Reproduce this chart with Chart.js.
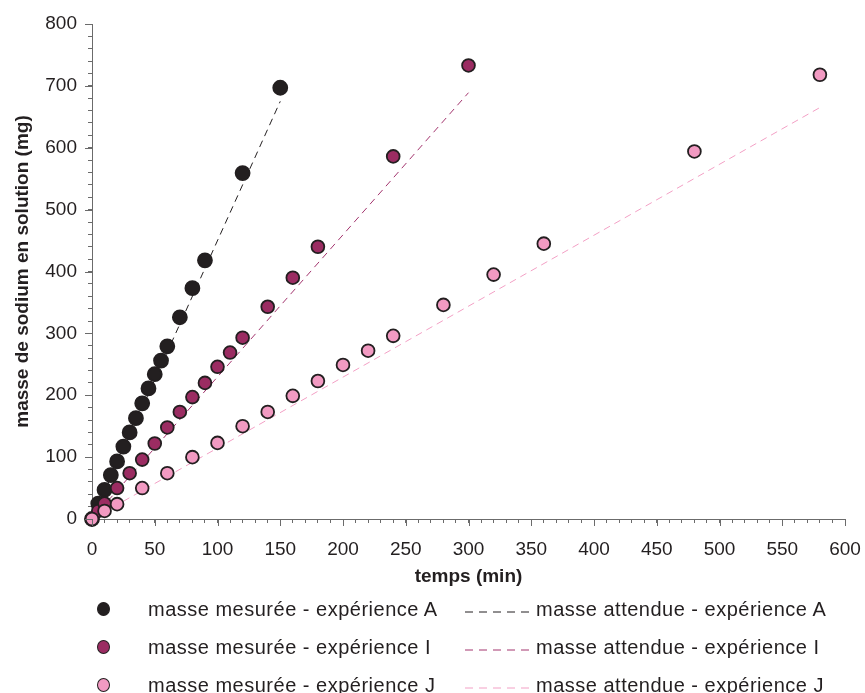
<!DOCTYPE html>
<html lang="fr">
<head>
<meta charset="utf-8">
<script src="https://cdn.jsdelivr.net/npm/chart.js@4.4.0/dist/chart.umd.min.js"></script>
<style>
  body { margin: 0; background: #fff; }
  #wrap { position: relative; width: 865px; height: 693px; font-family: "Liberation Sans", Arial, sans-serif; }
  #chart { position: absolute; left: 0; top: 0; }
  .leg { position: absolute; font-size: 20px; letter-spacing: 0.5px; color: #231f20; white-space: nowrap; line-height: 22px; }
  .dot { position: absolute; width: 11px; height: 12px; border-radius: 50%; border: 1.5px solid #231f20; }
</style>
</head>
<body>
<div id="wrap">
  <canvas id="chart" width="865" height="600"></canvas>
  <div id="legend"></div>
</div>
<script>
// measured points (time in min, mass in mg)
const timesA = [0, 5, 10, 15, 20, 25, 30, 35, 40, 45, 50, 55, 60, 70, 80, 90, 120, 150];
const massA  = [0, 25, 47, 71, 93, 117, 140, 163, 187, 211, 234, 256, 279, 326, 373, 418, 559, 697];
const timesI = [0, 5, 10, 20, 30, 40, 50, 60, 70, 80, 90, 100, 110, 120, 140, 160, 180, 240, 300];
const massI  = [0, 13, 25, 50, 74, 96, 122, 148, 173, 197, 220, 246, 269, 293, 343, 390, 440, 586, 733];
const timesJ = [0, 10, 20, 40, 60, 80, 100, 120, 140, 160, 180, 200, 220, 240, 280, 320, 360, 480, 580];
const massJ  = [0, 13, 24, 50, 74, 100, 123, 150, 173, 199, 223, 249, 272, 296, 346, 395, 445, 594, 718];

// expected mass (dashed lines)
const expTimesA = [0, 150];
const expMassA  = [0, 675];
const expTimesI = [0, 300];
const expMassI  = [0, 689];
const expTimesJ = [0, 580];
const expMassJ  = [0, 665];

const measuredNames = ['masse mesurée - expérience A', 'masse mesurée - expérience I', 'masse mesurée - expérience J'];
const expectedNames = ['masse attendue - expérience A', 'masse attendue - expérience I', 'masse attendue - expérience J'];

const fillColors = ['#231f20', '#9b2c62', '#f29ac2'];
const lineColors = ['#231f20', '#a3356e', '#f3a0c5'];
const axisColor = '#6b6b6b';
const textColor = '#231f20';

const pts = (xs, ys) => xs.map((x, i) => ({ x: x, y: ys[i] }));

const measured = [pts(timesA, massA), pts(timesI, massI), pts(timesJ, massJ)];
const expected = [pts(expTimesA, expMassA), pts(expTimesI, expMassI), pts(expTimesJ, expMassJ)];

const datasets = [];
expected.forEach((d, i) => datasets.push({
  label: expectedNames[i], data: d, showLine: true, pointRadius: 0,
  borderColor: lineColors[i], borderWidth: 1, borderDash: [7, 5], order: 5, clip: false
}));
measured.forEach((d, i) => datasets.push({
  label: measuredNames[i], data: d, showLine: false,
  pointRadius: i === 0 ? 7 : 6.4, pointBorderWidth: 1.8,
  pointBackgroundColor: fillColors[i], pointBorderColor: '#231f20',
  order: 3 - i, clip: false
}));

// longer marks on labelled ticks
const majorTicks = {
  id: 'majorTicks',
  afterDraw(chart) {
    const ctx = chart.ctx, xs = chart.scales.x, ys = chart.scales.y;
    ctx.save();
    ctx.strokeStyle = axisColor;
    ctx.lineWidth = 1;
    xs.ticks.forEach(t => {
      if (t.value % 50 !== 0) return;
      const px = Math.round(xs.getPixelForValue(t.value)) + 0.5;
      ctx.beginPath(); ctx.moveTo(px, xs.top); ctx.lineTo(px, xs.top + 7); ctx.stroke();
    });
    ys.ticks.forEach(t => {
      if (t.value % 100 !== 0) return;
      const py = Math.round(ys.getPixelForValue(t.value)) + 0.5;
      ctx.beginPath(); ctx.moveTo(ys.right, py); ctx.lineTo(ys.right - 7, py); ctx.stroke();
    });
    ctx.restore();
  }
};

const tickFont = { family: '"Liberation Sans", Arial, sans-serif', size: 19 };
const titleFont = { family: '"Liberation Sans", Arial, sans-serif', size: 19, weight: 'bold' };

new Chart(document.getElementById('chart'), {
  type: 'scatter',
  data: { datasets },
  options: {
    responsive: false,
    devicePixelRatio: 1,
    animation: false,
    layout: { padding: { left: 0, right: 20, top: 24, bottom: 0 } },
    plugins: { legend: { display: false }, tooltip: { enabled: false } },
    scales: {
      x: {
        type: 'linear', min: 0, max: 600,
        afterFit: s => { s.height = 81; s.paddingRight = 0; s.paddingLeft = 0; },
        border: { color: axisColor, width: 1 },
        grid: { drawOnChartArea: false, color: axisColor, tickLength: 4 },
        ticks: {
          stepSize: 10, autoSkip: false, maxRotation: 0, padding: 15,
          color: textColor, font: tickFont,
          callback: v => (v % 50 === 0 ? String(v) : '')
        },
        title: { display: true, text: 'temps (min)', color: textColor, font: titleFont, padding: { top: 0, bottom: 12 } }
      },
      y: {
        type: 'linear', min: 0, max: 800,
        afterFit: s => { s.width = 92; },
        border: { color: axisColor, width: 1 },
        grid: { drawOnChartArea: false, color: axisColor, tickLength: 4 },
        ticks: {
          stepSize: 20, autoSkip: false, padding: 11,
          color: textColor, font: tickFont,
          callback: v => (v % 100 === 0 ? String(v) : '')
        },
        title: { display: true, text: 'masse de sodium en solution (mg)', color: textColor, font: titleFont, padding: { top: 11, bottom: 0 } }
      }
    }
  },
  plugins: [majorTicks]
});

// legend below the chart, two columns
const legend = document.getElementById('legend');
const rowY = [609, 647, 685];
measuredNames.forEach((name, i) => {
  const dot = document.createElement('div');
  dot.className = 'dot';
  dot.style.background = fillColors[i];
  dot.style.left = (104 - 7) + 'px';
  dot.style.top = (rowY[i] - 7) + 'px';
  legend.appendChild(dot);
  const t = document.createElement('div');
  t.className = 'leg';
  t.textContent = name;
  t.style.left = '148px';
  t.style.top = (rowY[i] - 11) + 'px';
  legend.appendChild(t);
});
expectedNames.forEach((name, i) => {
  const svg = document.createElementNS('http://www.w3.org/2000/svg', 'svg');
  svg.setAttribute('width', '70');
  svg.setAttribute('height', '4');
  svg.style.position = 'absolute';
  svg.style.left = '465px';
  svg.style.top = (rowY[i] + 1) + 'px';
  const ln = document.createElementNS('http://www.w3.org/2000/svg', 'line');
  ln.setAttribute('x1', '0'); ln.setAttribute('y1', '2');
  ln.setAttribute('x2', '70'); ln.setAttribute('y2', '2');
  ln.setAttribute('stroke', lineColors[i]);
  ln.setAttribute('stroke-width', '1');
  ln.setAttribute('stroke-dasharray', '8 6');
  svg.appendChild(ln);
  legend.appendChild(svg);
  const t = document.createElement('div');
  t.className = 'leg';
  t.textContent = name;
  t.style.left = '536px';
  t.style.top = (rowY[i] - 11) + 'px';
  legend.appendChild(t);
});
</script>
</body>
</html>
